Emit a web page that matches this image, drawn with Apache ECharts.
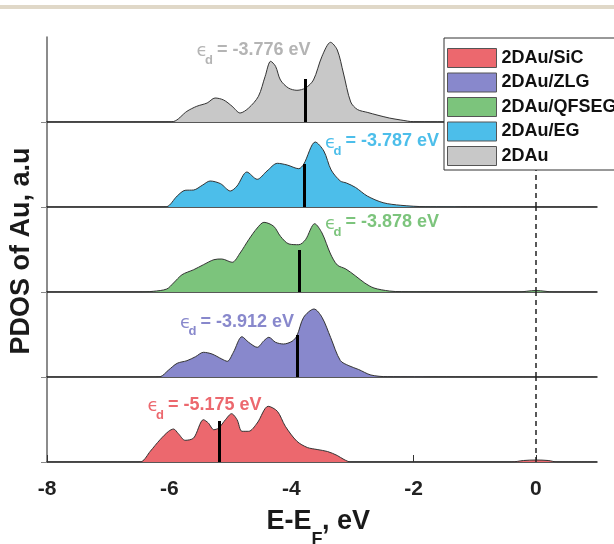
<!DOCTYPE html>
<html><head><meta charset="utf-8">
<script src="https://cdn.jsdelivr.net/npm/echarts@6/dist/echarts.min.js"></script>
<style>html,body{margin:0;padding:0;background:#fff}#c{width:614px;height:544px}</style>
</head><body><div id="c"></div>
<script>
// ---------- data ----------
const xTicks = [-8, -6, -4, -2, 0];
const panelNames = ['2DAu', '2DAu/EG', '2DAu/QFSEG', '2DAu/ZLG', '2DAu/SiC']; // top -> bottom
const legendOrder = ['2DAu/SiC', '2DAu/ZLG', '2DAu/QFSEG', '2DAu/EG', '2DAu'];
const fermiLevel = 0;
const dBandCenters = [-3.776, -3.787, -3.878, -3.912, -5.175];
const dBandTexts = ['= -3.776 eV', '= -3.787 eV', '= -3.878 eV', '= -3.912 eV', '= -5.175 eV'];
const dBandMarkHeights = [43, 43, 42, 42, 41];
// label anchors (energy, pdos) of the "= ... eV" text start
const labelE = [-5.22, -3.115, -3.115, -5.49, -6.02];
const labelP = [72, 65.5, 69.5, 55.3, 57];

const au_E   = [-8, -6.1, -5.93, -5.71, -5.55, -5.38, -5.25, -5.11, -4.97, -4.84, -4.70, -4.54, -4.43, -4.34, -4.26, -4.18, -4.05, -3.91, -3.77, -3.64, -3.50, -3.36, -3.25, -3.15, -3.03, -2.92, -2.75, -2.60, -2.40, -2.21, -2.0, 1];
const au_P   = [0, 0, 0.5, 10.7, 15.7, 19, 24, 22, 15.7, 9, 14, 25.7, 45.7, 60.7, 55.7, 42, 34, 31.7, 34, 42, 65.7, 79.7, 72, 49, 20, 12.5, 9.5, 7, 4, 2, 0.3, 0];

const eg_E   = [-8, -6.15, -6.04, -5.87, -5.74, -5.60, -5.46, -5.33, -5.16, -5.00, -4.89, -4.73, -4.56, -4.40, -4.23, -4.07, -3.88, -3.80, -3.61, -3.47, -3.35, -3.20, -3.10, -2.95, -2.76, -2.50, -2.21, -1.80, 1];
const eg_P   = [0, 0, 0.3, 11, 16.7, 17, 21.7, 26, 23.3, 16, 21, 35, 27.7, 36, 43.7, 42, 38.3, 42.7, 65, 56, 37, 26, 24, 19.5, 11, 4.3, 1.7, 0.3, 0];

const qf_E   = [-8, -6.5, -6.26, -6.04, -5.93, -5.79, -5.60, -5.44, -5.27, -5.14, -4.97, -4.84, -4.70, -4.56, -4.45, -4.29, -4.18, -4.04, -3.88, -3.77, -3.62, -3.50, -3.36, -3.25, -3.11, -2.95, -2.80, -2.65, -2.40, -2.20, -0.30, 0, 0.30, 1];
const qf_P   = [0, 0, 0.7, 3, 9, 17.3, 22.3, 27.3, 32.3, 33, 29.7, 39, 52.3, 64, 69.7, 65.7, 55.7, 48, 47.3, 52.3, 68.3, 59, 38, 27, 23, 16, 9, 4, 1, 0.3, 0, 1.5, 0, 0];

const zlg_E  = [-8, -6.3, -6.15, -6.01, -5.87, -5.71, -5.57, -5.44, -5.30, -5.14, -5.05, -4.95, -4.81, -4.70, -4.56, -4.45, -4.37, -4.26, -4.13, -3.99, -3.91, -3.80, -3.63, -3.50, -3.36, -3.20, -3.06, -2.90, -2.70, -2.43, 1];
const zlg_P  = [0, 0, 0.3, 7, 13.7, 16.3, 20.3, 24.7, 23, 18, 15.7, 24.7, 40.3, 34.7, 29.7, 36.3, 39.7, 34.7, 33, 35.7, 41.3, 59.7, 68, 59.7, 39.7, 16.5, 11.3, 7.5, 2, 0.3, 0];

const sic_E  = [-8, -6.55, -6.45, -6.31, -6.15, -6.01, -5.93, -5.85, -5.74, -5.60, -5.44, -5.36, -5.27, -5.19, -5.08, -4.98, -4.89, -4.81, -4.70, -4.56, -4.38, -4.23, -4.10, -3.91, -3.74, -3.58, -3.41, -3.25, -3.14, -3.03, -0.40, -0.20, 0, 0.20, 0.35, 1];
const sic_P  = [0, 0, 0.5, 10.7, 22.3, 30.7, 33, 28.3, 21.7, 24, 42.3, 39, 32.3, 34, 42.3, 48.3, 42.3, 30.7, 30.7, 39, 55.7, 50.7, 35.7, 20.7, 14.5, 12.5, 10.5, 6.5, 2.5, 0, 0, 1.5, 2, 1.5, 0, 0];

const panelE = [au_E, eg_E, qf_E, zlg_E, sic_E];
const panelP = [au_P, eg_P, qf_P, zlg_P, sic_P];

// ---------- styles ----------
const fills = ['#c8c8c8', '#4cbeea', '#7cc47c', '#8888cc', '#ec686e'];
const labelColors = ['#b4b4b4', '#4cbeea', '#7cc47c', '#8888cc', '#ec686e'];
const FONT = '"Liberation Sans", Arial, sans-serif';
const GRID_TOP = 37, PANEL_H = 85, GRID_LEFT = 47, GRID_RIGHT = 17, PMAX = 85;

const chart = echarts.init(document.getElementById('c'), null, {renderer: 'canvas'});

const grids = [], xAxes = [], yAxes = [], series = [];
for (let i = 0; i < 5; i++) {
  const isBottom = i === 4;
  grids.push({left: GRID_LEFT, right: GRID_RIGHT, top: GRID_TOP + i * PANEL_H, height: PANEL_H});
  xAxes.push({
    gridIndex: i, type: 'value', min: -8, max: 1, interval: 2,
    axisLine: {show: true, onZero: false, lineStyle: {color: '#222', width: 1.5}},
    axisTick: {show: isBottom, inside: true, length: 7, customValues: xTicks, lineStyle: {color: '#333', width: 1}},
    axisLabel: {show: isBottom, customValues: xTicks, margin: 17, color: '#222',
      fontSize: 21, fontWeight: 'bold', fontFamily: FONT},
    splitLine: {show: false}
  });
  yAxes.push({
    gridIndex: i, type: 'value', min: 0, max: PMAX, interval: PMAX, position: 'left',
    axisLine: {show: true, onZero: false, lineStyle: {color: '#666', width: 1.5}},
    axisTick: {show: true, inside: false, length: 6, customValues: i === 0 ? [0] : [0, PMAX],
      lineStyle: {color: '#888', width: 1}},
    axisLabel: {show: false}, splitLine: {show: false}
  });
  const data = panelE[i].map((e, k) => [e, panelP[i][k]]);
  const markData = [
    [{coord: [dBandCenters[i], 0], lineStyle: {color: '#000', width: 3, type: 'solid'}},
     {coord: [dBandCenters[i], dBandMarkHeights[i]]}]
  ];
  if (i > 0) markData.push([
    {coord: [fermiLevel, 0], lineStyle: {color: '#222', width: 1.5, type: [5, 4]}},
    {coord: [fermiLevel, PMAX]}
  ]);
  series.push({
    name: panelNames[i], type: 'line', xAxisIndex: i, yAxisIndex: i,
    data: data, smooth: 0.3, showSymbol: false, symbol: 'none',
    color: fills[i],
    itemStyle: {color: fills[i]},
    lineStyle: {color: '#333', width: 1},
    areaStyle: {color: fills[i], opacity: 1},
    z: 2,
    markLine: {silent: true, symbol: ['none', 'none'], label: {show: false}, animation: false, data: markData}
  });
}

chart.setOption({
  animation: false,
  backgroundColor: '#fff',
  grid: grids, xAxis: xAxes, yAxis: yAxes, series: series,
  legend: {
    data: legendOrder, orient: 'vertical', left: 444, top: 38,
    padding: [10, 30, 4, 3], itemGap: 4.5, itemWidth: 49, itemHeight: 19, itemTextGap: 4,
    icon: 'rect', backgroundColor: '#fff', borderColor: '#333', borderWidth: 1,
    itemStyle: {borderColor: '#555', borderWidth: 1},
    textStyle: {fontSize: 18, fontWeight: 'bold', color: '#111', fontFamily: FONT},
    selectedMode: false, z: 10
  }
});

// ---------- annotations ----------
const graphics = [
  {type: 'rect', shape: {x: 0, y: 5, width: 614, height: 4}, style: {fill: '#e0d8c8'}, z: 100},
  {type: 'text', x: 22, y: 251, rotation: Math.PI / 2,
   style: {text: 'PDOS of Au, a.u', font: 'bold 27px ' + FONT, fill: '#1a1a1a', align: 'center', verticalAlign: 'middle'}},
  {type: 'text', x: 266.5, y: 522,
   style: {text: 'E-E', font: 'bold 27px ' + FONT, fill: '#1a1a1a', align: 'left', verticalAlign: 'middle'}},
  {type: 'text', x: 311.5, y: 540,
   style: {text: 'F', font: 'bold 18px ' + FONT, fill: '#1a1a1a', align: 'left', verticalAlign: 'middle'}},
  {type: 'text', x: 322, y: 522,
   style: {text: ', eV', font: 'bold 27px ' + FONT, fill: '#1a1a1a', align: 'left', verticalAlign: 'middle'}}
];
for (let i = 0; i < 5; i++) {
  const p = chart.convertToPixel({gridIndex: i}, [labelE[i], labelP[i]]);
  graphics.push(
    {type: 'text', x: p[0] - 20.5, y: p[1] + 1.5, z: 50,
     style: {text: 'ϵ', font: '18px "DejaVu Sans"', fill: labelColors[i], align: 'left', verticalAlign: 'middle'}},
    {type: 'text', x: p[0] - 12, y: p[1] + 10, z: 50,
     style: {text: 'd', font: 'bold 13px ' + FONT, fill: labelColors[i], align: 'left', verticalAlign: 'middle'}},
    {type: 'text', x: p[0], y: p[1], z: 50,
     style: {text: dBandTexts[i], font: 'bold 18px ' + FONT, fill: labelColors[i], align: 'left', verticalAlign: 'middle'}}
  );
}
chart.setOption({graphic: graphics});
</script>
</body></html>
